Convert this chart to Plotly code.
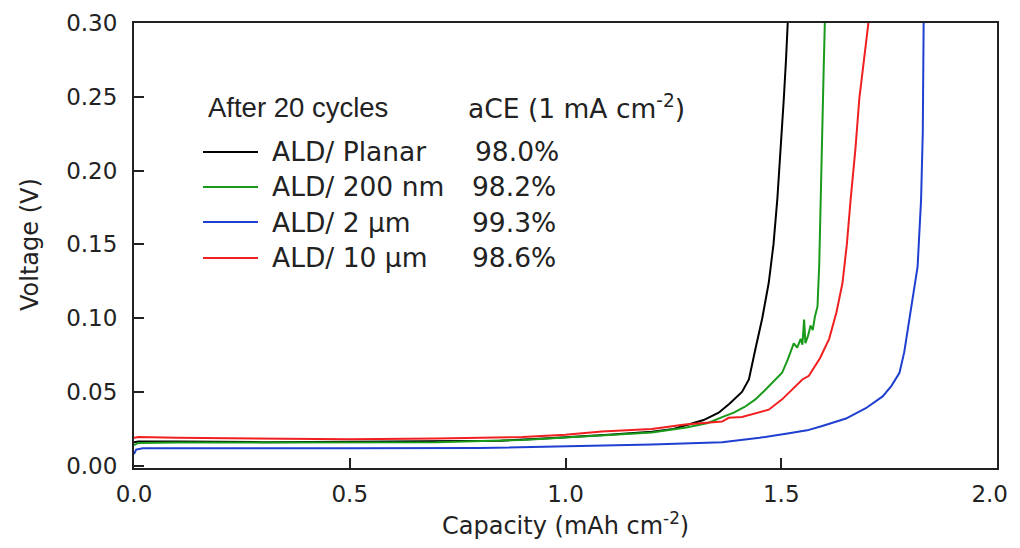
import plotly.graph_objects as go

# ---- data ----
names = ["ALD/ Planar", "ALD/ 200 nm", "ALD/ 2 \u03bcm", "ALD/ 10 \u03bcm"]
ace = ["98.0%", "98.2%", "99.3%", "98.6%"]
colors = ["#000000", "#1a9a1a", "#1f3fd0", "#f02020"]

planar_x = [0.0, 0.01, 0.1, 0.3, 0.5, 0.7, 0.85, 0.95, 1.0, 1.1, 1.2, 1.25, 1.285, 1.32, 1.355, 1.38,
            1.409, 1.425, 1.44, 1.456, 1.471, 1.482, 1.491, 1.499, 1.506, 1.511, 1.515]
planar_y = [0.016, 0.0165, 0.0165, 0.016, 0.0163, 0.0165, 0.017, 0.0185, 0.0195, 0.021, 0.023, 0.025,
            0.028, 0.031, 0.036, 0.042, 0.050, 0.0585, 0.079, 0.100, 0.124, 0.150, 0.181, 0.215, 0.249,
            0.275, 0.300]

g200_x = [0.0, 0.01, 0.1, 0.3, 0.5, 0.7, 0.9, 1.0, 1.1, 1.2, 1.28, 1.33, 1.363, 1.39, 1.416, 1.44,
          1.465, 1.487, 1.502, 1.515, 1.529, 1.537, 1.545, 1.549, 1.553, 1.556, 1.562, 1.568, 1.573,
          1.578, 1.584, 1.588, 1.592, 1.595, 1.598, 1.601]
g200_y = [0.014, 0.0155, 0.0158, 0.0157, 0.0158, 0.016, 0.0175, 0.019, 0.021, 0.0225, 0.026, 0.029,
          0.033, 0.036, 0.040, 0.045, 0.052, 0.0585, 0.063, 0.072, 0.083, 0.080, 0.086, 0.082, 0.099,
          0.083, 0.088, 0.095, 0.092, 0.101, 0.108, 0.136, 0.180, 0.226, 0.265, 0.300]

b2_x = [0.0, 0.005, 0.02, 0.2, 0.5, 0.8, 1.0, 1.2, 1.363, 1.45, 1.518, 1.56, 1.595, 1.65, 1.696,
        1.735, 1.755, 1.774, 1.785, 1.795, 1.805, 1.816, 1.824, 1.828, 1.830]
b2_y = [0.008, 0.011, 0.0118, 0.0117, 0.0118, 0.012, 0.013, 0.0145, 0.016, 0.019, 0.022, 0.024,
        0.027, 0.032, 0.039, 0.047, 0.054, 0.063, 0.077, 0.095, 0.115, 0.135, 0.180, 0.226, 0.300]

r10_x = [0.0, 0.01, 0.1, 0.3, 0.5, 0.7, 0.9, 1.0, 1.084, 1.2, 1.277, 1.363, 1.378, 1.409, 1.471,
         1.502, 1.549, 1.564, 1.59, 1.611, 1.628, 1.642, 1.652, 1.661, 1.672, 1.681, 1.692, 1.702]
r10_y = [0.019, 0.0195, 0.019, 0.0183, 0.018, 0.0185, 0.0195, 0.021, 0.0233, 0.025, 0.028, 0.030,
         0.0325, 0.033, 0.038, 0.045, 0.0585, 0.061, 0.073, 0.086, 0.104, 0.124, 0.150, 0.181, 0.215,
         0.249, 0.275, 0.300]

xs = [planar_x, g200_x, b2_x, r10_x]
ys = [planar_y, g200_y, b2_y, r10_y]

x_tickvals = [0, 0.5, 1.0, 1.5, 2.0]
x_ticktext = ["0.0", "0.5", "1.0", "1.5", "2.0\u00a0\u00a0"]
y_tickvals = [0, 0.05, 0.10, 0.15, 0.20, 0.25, 0.30]
y_ticktext = ["0.00", "0.05", "0.10", "0.15", "0.20", "0.25", "0.30"]

legend_title = "After 20 cycles"
legend_title2 = "aCE (1 mA cm<sup>-2</sup>)"
x_title = "Capacity (mAh cm<sup>-2</sup>)"
y_title = "Voltage (V)"

fig = go.Figure()
for i in range(4):
    fig.add_trace(go.Scatter(x=xs[i], y=ys[i], mode="lines", name=names[i],
                             line=dict(color=colors[i], width=2), showlegend=False))

# page offset (default body margin) and figure geometry
OFF = 8
W, H = 1012, 532
ml, mr, mt, mb = 126, 23, 15, 72
pw, ph = W - ml - mr, H - mt - mb


def px(xp):
    return (xp - OFF - ml) / pw


def py(yp):
    return 1 - (yp - OFF - mt) / ph


lfa = dict(family="Liberation Sans, Arial, sans-serif", size=27.5, color="#222")
lf = dict(family="DejaVu Sans, sans-serif", size=26.5, color="#222")
fig.add_annotation(x=px(206), y=py(107), xref="paper", yref="paper", text=legend_title,
                   showarrow=False, xanchor="left", yanchor="middle", font=lfa)
fig.add_annotation(x=px(466), y=py(107), xref="paper", yref="paper", text=legend_title2,
                   showarrow=False, xanchor="left", yanchor="middle", font=lf)
rows = [152, 187, 222, 258]
for i in range(4):
    fig.add_shape(type="line", xref="paper", yref="paper", x0=px(203), x1=px(258),
                  y0=py(rows[i]), y1=py(rows[i]), line=dict(color=colors[i], width=2))
    fig.add_annotation(x=px(270), y=py(rows[i]), xref="paper", yref="paper", text=names[i],
                       showarrow=False, xanchor="left", yanchor="middle", font=lf)
    fig.add_annotation(x=px(470 + (3 if i == 0 else 0)), y=py(rows[i]), xref="paper", yref="paper",
                       text=ace[i], showarrow=False, xanchor="left", yanchor="middle", font=lf)

tf = dict(family="DejaVu Sans, sans-serif", size=23, color="#222")
ttf = dict(family="DejaVu Sans, sans-serif", size=24, color="#222")
fig.add_annotation(x=px(30), y=py(245), xref="paper", yref="paper", text=y_title, textangle=-90,
                   showarrow=False, xanchor="center", yanchor="middle", font=ttf)
fig.add_annotation(x=px(565), y=py(524), xref="paper", yref="paper", text=x_title,
                   showarrow=False, xanchor="center", yanchor="middle", font=ttf)

fig.update_xaxes(range=[0, 2.0], tickvals=x_tickvals, ticktext=x_ticktext, automargin=False,
                 ticklabeloverflow="allow",
                 ticks="inside", ticklen=10, tickwidth=2, tickcolor="#222",
                 showline=True, linewidth=2, linecolor="#222", mirror=True,
                 showgrid=False, zeroline=False, tickfont=tf, ticklabelstandoff=4)
fig.update_yaxes(range=[-0.0015, 0.3], tickvals=y_tickvals, ticktext=y_ticktext, automargin=False,
                 ticklabeloverflow="allow",
                 ticks="inside", ticklen=10, tickwidth=2, tickcolor="#222",
                 showline=True, linewidth=2, linecolor="#222", mirror=True,
                 showgrid=False, zeroline=False, tickfont=tf, ticklabelstandoff=10)
fig.update_layout(width=W, height=H, margin=dict(l=ml, r=mr, t=mt, b=mb),
                  paper_bgcolor="white", plot_bgcolor="white")
fig.write_html("out.html")
